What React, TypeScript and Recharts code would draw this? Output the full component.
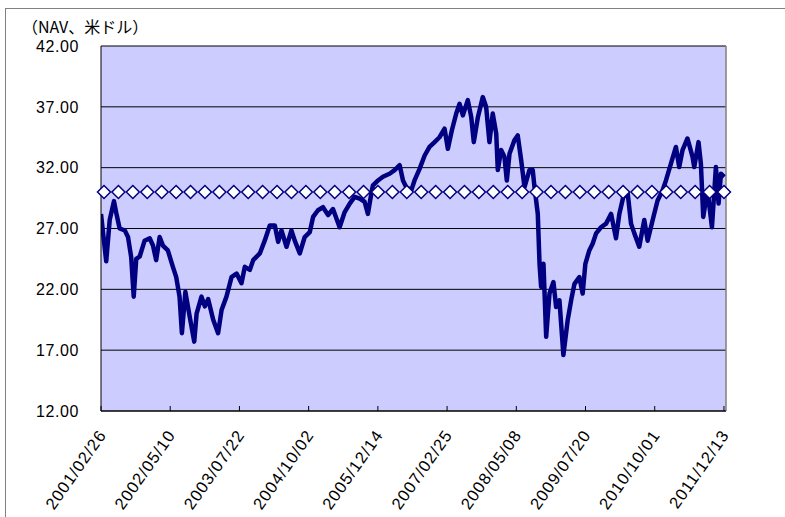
import React from "react";
import { LineChart, Line, XAxis, YAxis, CartesianGrid, ReferenceLine } from "recharts";

// days since 2001/02/26
const DAYS = [
  0, 33, 55, 82, 97, 118, 150, 171, 191, 207,
  223, 245, 276, 308, 329, 349, 371, 392, 423, 455,
  476, 497, 512, 534, 562, 590, 605, 636, 657, 678,
  710, 741, 763, 794, 826, 858, 889, 910, 942, 963,
  1005, 1036, 1068, 1100, 1121, 1142, 1174, 1205, 1226, 1258,
  1289, 1321, 1342, 1373, 1405, 1437, 1468, 1510, 1542, 1574,
  1605, 1637, 1668, 1689, 1711, 1721, 1753, 1784, 1826, 1858,
  1890, 1911, 1932, 1964, 1984, 2016, 2048, 2079, 2111, 2142,
  2174, 2195, 2220, 2248, 2269, 2290, 2321, 2343, 2359, 2385,
  2416, 2437, 2458, 2479, 2501, 2511, 2532, 2553, 2568, 2585,
  2616, 2637, 2659, 2680, 2711, 2732, 2743, 2764, 2775, 2785,
  2800, 2817, 2838, 2863, 2880, 2901, 2926, 2953, 2975, 2996,
  3027, 3048, 3065, 3090, 3111, 3133, 3164, 3196, 3228, 3259,
  3280, 3305, 3333, 3354, 3375, 3406, 3438, 3459, 3491, 3522,
  3554, 3575, 3607, 3638, 3659, 3680, 3711, 3743, 3754, 3781,
  3796, 3811, 3838, 3866, 3891, 3908, 3923, 3944,
];

const NAV = [
  28.2, 24.3, 27.7, 29.25, 28.25, 27.0, 26.85, 26.3, 24.65, 21.4,
  24.5, 24.7, 26.0, 26.2, 25.6, 24.4, 26.3, 25.6, 25.2, 23.85,
  23.0, 21.4, 18.4, 21.8, 19.7, 17.7, 20.0, 21.4, 20.6, 21.2,
  19.5, 18.4, 20.3, 21.4, 23.0, 23.3, 22.5, 23.85, 23.6, 24.4,
  24.95, 26.0, 27.25, 27.25, 25.9, 26.85, 25.5, 26.85, 26.0, 24.95,
  26.3, 26.7, 27.95, 28.5, 28.75, 28.1, 28.6, 27.1, 28.35, 29.05,
  29.6, 29.45, 29.2, 28.2, 29.9, 30.55, 30.95, 31.25, 31.5, 31.8,
  32.2, 30.95, 30.4, 30.15, 30.95, 31.9, 33.0, 33.7, 34.1, 34.5,
  35.2, 33.55, 35.05, 36.45, 37.25, 36.3, 37.55, 36.15, 34.1, 36.15,
  37.8, 37.0, 34.1, 36.45, 34.8, 31.8, 33.45, 32.9, 30.95, 33.15,
  34.25, 34.65, 32.6, 30.4, 31.8, 31.8, 30.4, 28.2, 24.1, 22.2,
  24.1, 18.1, 21.65, 22.6, 20.55, 21.1, 16.6, 19.45, 21.1, 22.45,
  23.0, 21.65, 24.1, 25.2, 25.75, 26.6, 27.1, 27.4, 28.2, 26.2,
  28.2, 29.6, 29.9, 27.4, 26.6, 25.5, 27.7, 26.0, 27.7, 29.3,
  30.15, 30.95, 32.35, 33.7, 32.05, 33.45, 34.4, 32.9, 32.05, 34.1,
  32.35, 27.95, 30.15, 27.1, 32.05, 29.05, 31.5, 31.25,
];

// reference level drawn with diamonds
const BASELINE = [
  30, 30, 30, 30, 30, 30, 30, 30, 30, 30, 30,
  30, 30, 30, 30, 30, 30, 30, 30, 30, 30, 30,
  30, 30, 30, 30, 30, 30, 30, 30, 30, 30, 30,
  30, 30, 30, 30, 30, 30, 30, 30, 30, 30, 30,
];

const TICK_DAYS = [0, 438, 876, 1314, 1752, 2190, 2628, 3066, 3504, 3942];
const TICK_LABELS = [
  "2001/02/26", "2002/05/10", "2003/07/22", "2004/10/02", "2005/12/14",
  "2007/02/25", "2008/05/08", "2009/07/20", "2010/10/01", "2011/12/13",
];
const Y_TICKS = [12, 17, 22, 27, 32, 37, 42];
const X_MAX = 3955;

const FONT = "'Liberation Sans', Arial, sans-serif";

const navData = DAYS.map((d, i) => ({ d, nav: NAV[i] }));
const baseData = BASELINE.map((v, i) => ({ i, v }));

const DateTick = ({ x, y, payload }: any) => {
  const label = TICK_LABELS[TICK_DAYS.indexOf(payload.value)];
  const ax = x + 6;
  const ay = y + 24;
  return (
    <g>
      <line x1={x} x2={x} y1={y} y2={y - 5} stroke="#000" />
      <text
        x={ax}
        y={ay}
        textAnchor="end"
        fontSize={16.5}
        letterSpacing={1}
        fontFamily={FONT}
        fill="#000"
        transform={`rotate(-55, ${ax}, ${ay})`}
      >
        {label}
      </text>
    </g>
  );
};

const ValueTick = ({ x, y, payload }: any) => (
  <text x={x} y={y} dy="0.36em" textAnchor="end" fontSize={16} letterSpacing={0.6} fontFamily={FONT} fill="#000">
    {payload.value.toFixed(2)}
  </text>
);

const Diamond = ({ cx, cy }: any) => {
  if (cx == null || cy == null) return null;
  const r = 6.5;
  return (
    <polygon
      points={`${cx},${cy - r} ${cx + r},${cy} ${cx},${cy + r} ${cx - r},${cy}`}
      fill="#fff"
      stroke="#000080"
      strokeWidth={1.5}
    />
  );
};

export default function App() {
  return (
    <div style={{ position: "fixed", left: 0, top: 0, width: 785, height: 517, overflow: "hidden", background: "#fff" }}>
      <div
        style={{
          position: "absolute", left: 5, top: 8, width: 820, height: 560,
          borderLeft: "1px solid #808080", borderTop: "1px solid #808080",
        }}
      />
      <div
        style={{
          position: "absolute", left: 22, top: 14, fontSize: 16,
          fontFamily: "'Noto Sans CJK JP', sans-serif", color: "#000", whiteSpace: "nowrap",
        }}
      >
        （NAV、米ドル）
      </div>
      <LineChart width={785} height={517} margin={{ top: 46, right: 59, bottom: 6, left: 41 }}>
        <CartesianGrid fill="#CCCCFF" fillOpacity={1} vertical={false} stroke="#000" />
        <XAxis
          dataKey="d"
          type="number"
          domain={[0, X_MAX]}
          ticks={TICK_DAYS}
          tick={<DateTick />}
          tickSize={0}
          tickMargin={0}
          height={100}
          axisLine={{ stroke: "#000" }}
          tickLine={false}
          interval={0}
          allowDataOverflow
        />
        <XAxis
          xAxisId="b"
          dataKey="i"
          type="number"
          domain={[0, BASELINE.length - 1]}
          padding={{ left: 3, right: 2 }}
          hide
        />
        <YAxis
          type="number"
          domain={[12, 42]}
          ticks={Y_TICKS}
          tick={<ValueTick />}
          width={60}
          tickSize={0}
          tickMargin={22}
          axisLine={{ stroke: "#000" }}
          tickLine={false}
          interval={0}
        />
        <ReferenceLine x={X_MAX} stroke="#808080" strokeWidth={1.5} ifOverflow="extendDomain" />
        <Line
          data={navData}
          dataKey="nav"
          type="linear"
          stroke="#000080"
          strokeWidth={4.5}
          strokeLinejoin="round"
          dot={false}
          isAnimationActive={false}
        />
        <Line
          data={baseData}
          xAxisId="b"
          dataKey="v"
          type="linear"
          stroke="none"
          dot={<Diamond />}
          activeDot={false}
          isAnimationActive={false}
        />
      </LineChart>
    </div>
  );
}
